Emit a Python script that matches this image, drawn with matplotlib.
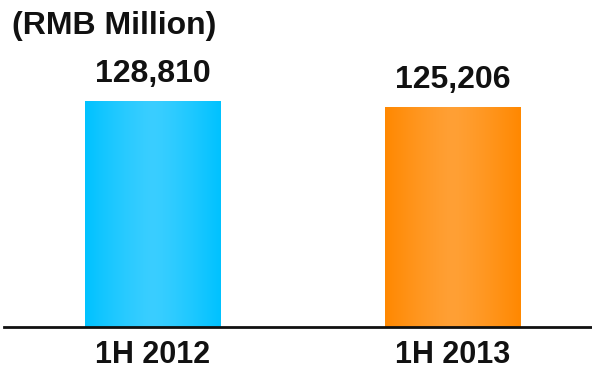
import numpy as np
import matplotlib
matplotlib.use("Agg")
import matplotlib.pyplot as plt
from matplotlib.colors import LinearSegmentedColormap

plt.rcParams["font.family"] = ["Liberation Sans", "DejaVu Sans"]

# Data
periods = ["1H 2012", "1H 2013"]
values = [128810, 125206]
edge_colors = ["#00C2FF", "#FF8800"]
mid_colors = ["#3ACEFF", "#FFA035"]
unit_label = "(RMB Million)"

W, H = 592, 368
fig = plt.figure(figsize=(W / 100, H / 100), dpi=100)

# axes: bottom spine at y=326.5px from top, left edge at x=4px
ax_left, ax_right = 4, 592
ax_bottom_px = 326.5
ax_top_px = 0
ax = fig.add_axes([ax_left / W, (H - ax_bottom_px) / H,
                   (ax_right - ax_left) / W, (ax_bottom_px - ax_top_px) / H])

x = np.arange(len(values))
px_per_unit = 299.5
centers_px = 153
ax.set_xlim(-(centers_px - ax_left) / px_per_unit, (ax_right - centers_px) / px_per_unit)
ymax = ax_bottom_px * values[0] / 225.5
ax.set_ylim(0, ymax)

bar_w = 136 / px_per_unit
bars = ax.bar(x, values, width=bar_w, color=edge_colors, edgecolor="none", zorder=2)

# horizontal gradient inside each bar: brighter toward the middle
grad = np.linspace(-1, 1, 256)
prof = 1 - np.abs(grad) ** 1.3
for b, c0, c1 in zip(bars, edge_colors, mid_colors):
    cmap = LinearSegmentedColormap.from_list("g", [c0, c1])
    bx, by = b.get_x(), b.get_y()
    bw, bh = b.get_width(), b.get_height()
    im = ax.imshow(prof[np.newaxis, :], cmap=cmap, aspect="auto",
                   extent=[bx, bx + bw, by, by + bh], zorder=3,
                   interpolation="bilinear", vmin=0, vmax=1)
    im.set_clip_path(b)

for xi, v in zip(x, values):
    ax.annotate(f"{v:,}", (xi, v), xytext=(0, 9), textcoords="offset points",
                ha="center", va="bottom", fontsize=23, fontweight="bold",
                color="#111111")

ax.set_xticks(x)
ax.set_xticklabels(periods, fontsize=22, fontweight="bold", color="#111111")
ax.tick_params(axis="x", length=0, pad=10)
ax.set_yticks([])
for s in ["top", "right", "left"]:
    ax.spines[s].set_visible(False)
ax.spines["bottom"].set_linewidth(2.0)
ax.spines["bottom"].set_color("#111111")
ax.set_facecolor("none")

fig.text(12 / W, 1 - 26 / H, unit_label, fontsize=23, fontweight="bold",
         color="#111111", ha="left", va="center")

fig.savefig("out.png", dpi=100)
